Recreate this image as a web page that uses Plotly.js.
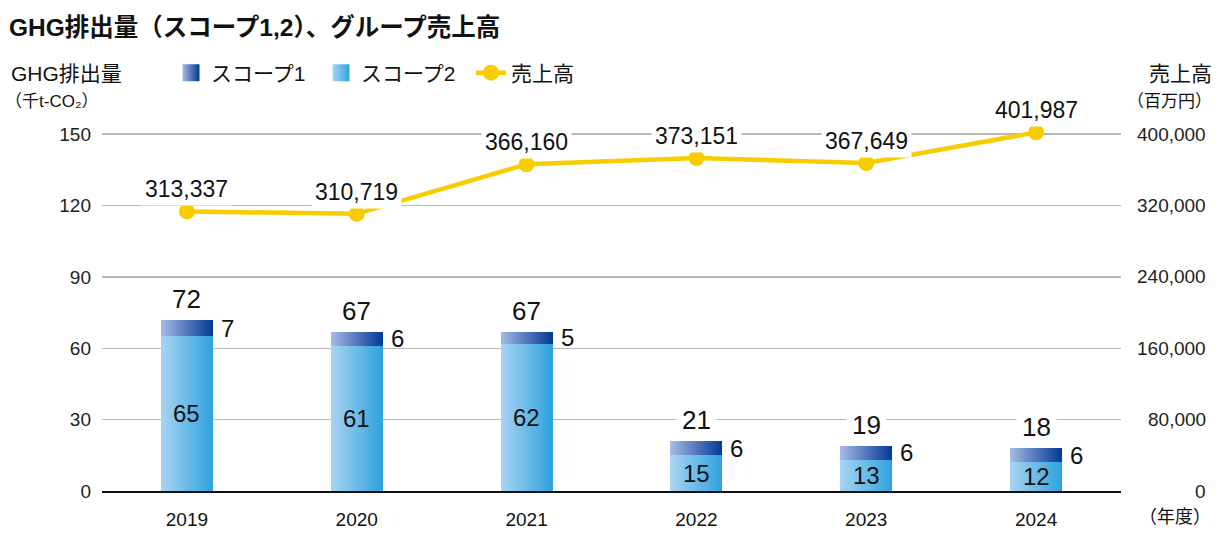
<!DOCTYPE html>
<html>
<head>
<meta charset="utf-8">
<script src="https://cdn.plot.ly/plotly-3.0.1.min.js"></script>
<style>html,body{margin:0;padding:0;background:#fff;}</style>
</head>
<body>
<div id="chart" style="width:1228px;height:545px;"></div>
<script>
// ---- data ----
const years = ['2019', '2020', '2021', '2022', '2023', '2024'];
const scope1 = [7, 6, 5, 6, 6, 6];
const scope2 = [65, 61, 62, 15, 13, 12];
const totals = [72, 67, 67, 21, 19, 18];
const sales = [313337, 310719, 366160, 373151, 367649, 401987];
const leftTicks = [0, 30, 60, 90, 120, 150];
const rightTicks = [0, 80000, 160000, 240000, 320000, 400000];

const FONT = 'Liberation Sans, Arial, "Noto Sans CJK JP", sans-serif';
const W = 1228, H = 545;
const L = 102, R = 1121, T = 127, B = 491;
const px = x => (x - L) / (R - L);
const py = y => (B - y) / (B - T);

const C1 = 'rgb(81, 111, 181)';
const C2 = 'rgb(103, 186, 233)';
const YEL = '#f8cd00';

const traces = [
  {type: 'bar', name: 'スコープ2', x: years, y: scope2, marker: {color: C2}, legendrank: 2, hoverinfo: 'skip'},
  {type: 'bar', name: 'スコープ1', x: years, y: scope1, marker: {color: C1}, legendrank: 1, hoverinfo: 'skip'},
  {type: 'scatter', mode: 'lines+markers', name: '売上高', x: years, y: sales, yaxis: 'y2',
   line: {color: YEL, width: 4.5}, marker: {color: YEL, size: 16}, cliponaxis: false, legendrank: 3, hoverinfo: 'skip'}
];

const ann = [];
const txt = (o) => Object.assign({showarrow: false, xanchor: 'center', yanchor: 'middle',
  font: {family: FONT, size: 20, color: '#111'}}, o);

years.forEach((yr, i) => {
  // total above bar
  ann.push(txt({x: i, y: totals[i], xref: 'x', yref: 'y', yanchor: 'bottom', yshift: 0,
    text: String(totals[i]), font: {family: FONT, size: 26, color: '#111'}, bgcolor: '#fff', borderpad: 5}));
  // scope1 right of bar
  ann.push(txt({x: i + 0.153, y: scope2[i] + scope1[i] / 2, xref: 'x', yref: 'y', xanchor: 'left', xshift: 6,
    text: String(scope1[i]), font: {family: FONT, size: 24, color: '#111'}}));
  // scope2 inside bar
  ann.push(txt({x: i, y: scope2[i] / 2, xref: 'x', yref: 'y',
    text: String(scope2[i]), font: {family: FONT, size: 24, color: '#111'}}));
  // sales above point
  ann.push(txt({x: i, y: sales[i], xref: 'x', yref: 'y2', yanchor: 'bottom', yshift: 5,
    text: sales[i].toLocaleString('en-US'), font: {family: FONT, size: 23, color: '#111'}, bgcolor: '#fff', borderpad: 3}));
});

rightTicks.forEach(v => {
  ann.push(txt({x: px(1208), y: v, xref: 'paper', yref: 'y2', xanchor: 'right',
    text: v.toLocaleString('en-US'), font: {family: FONT, size: 19, color: '#222'}}));
});

ann.push(txt({x: px(9), y: py(73), xref: 'paper', yref: 'paper', xanchor: 'left', text: 'GHG排出量', font: {family: FONT, size: 21, color: '#111'}}));
ann.push(txt({x: px(3), y: py(101), xref: 'paper', yref: 'paper', xanchor: 'left', text: '（千t-CO₂）', font: {family: FONT, size: 17, color: '#111'}}));
ann.push(txt({x: px(1214), y: py(73), xref: 'paper', yref: 'paper', xanchor: 'right', text: '売上高', font: {family: FONT, size: 21, color: '#111'}}));
ann.push(txt({x: px(1214), y: py(101), xref: 'paper', yref: 'paper', xanchor: 'right', text: '（百万円）', font: {family: FONT, size: 17, color: '#111'}}));
ann.push(txt({x: px(1213), y: py(517), xref: 'paper', yref: 'paper', xanchor: 'right', text: '（年度）', font: {family: FONT, size: 18, color: '#111'}}));

const layout = {
  width: W, height: H,
  margin: {l: L, r: W - R, t: T, b: H - B, pad: 0},
  paper_bgcolor: '#fff', plot_bgcolor: '#fff',
  font: {family: FONT, color: '#111'},
  title: {text: '<b>GHG排出量（スコープ1,2）、グループ売上高</b>', xref: 'container', yref: 'container',
          x: 9 / W, xanchor: 'left', y: 1 - 27 / H, yanchor: 'middle',
          font: {family: FONT, size: 24.5, color: '#111'}},
  barmode: 'stack', bargap: 0.694,
  showlegend: true,
  legend: {orientation: 'h', xref: 'container', yref: 'container', x: 171 / W, y: 1 - 73 / H,
           xanchor: 'left', yanchor: 'middle', traceorder: 'normal', entrywidth: 105, entrywidthmode: 'pixels',
           font: {family: FONT, size: 21, color: '#111'}, bgcolor: 'rgba(0,0,0,0)'},
  xaxis: {type: 'category', range: [-0.5, 5.5], showgrid: false, zeroline: false,
          showline: true, linecolor: '#111', linewidth: 2, ticks: '', ticklabelstandoff: 10,
          tickfont: {family: FONT, size: 19, color: '#111'}, fixedrange: true},
  yaxis: {range: [0, 153], tickvals: leftTicks, showgrid: true, gridcolor: '#b8b8b8', gridwidth: 1.4,
          zeroline: false, showline: false, ticks: '', ticklabelstandoff: 10,
          tickfont: {family: FONT, size: 19, color: '#222'}, fixedrange: true},
  yaxis2: {range: [0, 408000], overlaying: 'y', side: 'right', tickvals: rightTicks, showgrid: false,
           zeroline: false, showticklabels: false, ticks: '', fixedrange: true},
  annotations: ann
};

Plotly.newPlot('chart', traces, layout, {displayModeBar: false, staticPlot: true}).then(gd => {
  const svg = gd.querySelector('svg.main-svg');
  const ns = 'http://www.w3.org/2000/svg';
  let defs = svg.querySelector('defs');
  if (!defs) { defs = document.createElementNS(ns, 'defs'); svg.insertBefore(defs, svg.firstChild); }
  const mkGrad = (id, stops) => {
    const g = document.createElementNS(ns, 'linearGradient');
    g.setAttribute('id', id);
    g.setAttribute('x1', '0'); g.setAttribute('y1', '0'); g.setAttribute('x2', '1'); g.setAttribute('y2', '0');
    stops.forEach(([o, c]) => {
      const s = document.createElementNS(ns, 'stop');
      s.setAttribute('offset', o); s.setAttribute('stop-color', c);
      g.appendChild(s);
    });
    defs.appendChild(g);
  };
  mkGrad('gS1', [['0', '#a5bce3'], ['0.5', '#5676bd'], ['1', '#003b95']]);
  mkGrad('gS2', [['0', '#a9d4f2'], ['1', '#2ea2de']]);
  const norm = s => (s || '').replace(/\s/g, '');
  gd.querySelectorAll('path').forEach(p => {
    const f = norm(p.style.fill);
    const isLeg = !!p.closest('.legend');
    if (f === norm(C1)) p.style.fill = 'url(#gS1)';
    else if (f === norm(C2)) p.style.fill = 'url(#gS2)';
    else return;
    if (isLeg) p.setAttribute('d', 'M8.5,8.5H-8.5V-8.5H8.5Z');
  });
});
</script>
</body>
</html>
